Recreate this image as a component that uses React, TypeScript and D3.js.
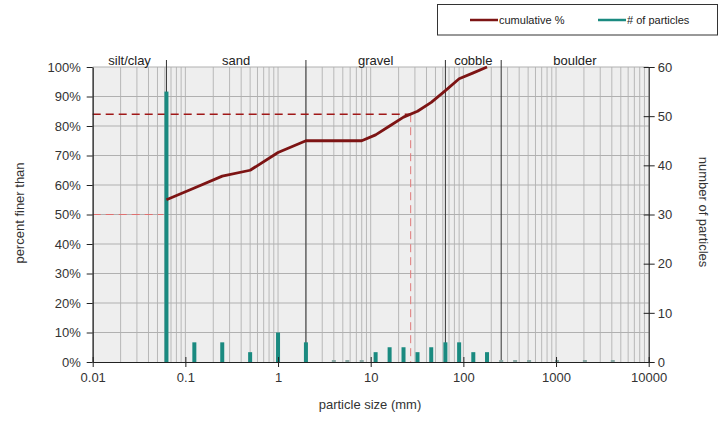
import * as d3 from "d3";
import { useEffect, useRef } from "react";

// sieve sizes (mm) and particle counts
const sizes = [0.0625, 0.125, 0.25, 0.5, 1, 2, 4, 5.6, 8, 11.3, 16, 22.6, 32, 45, 64, 90, 128, 180, 256, 362, 512, 1024, 2048, 4096];
const counts = [55, 4, 4, 2, 6, 4, 0, 0, 0, 2, 3, 3, 2, 3, 4, 4, 2, 2, 0, 0, 0, 0, 0, 0];
// cumulative % finer
const cumSizes = [0.0625, 0.125, 0.25, 0.5, 1, 2, 4, 5.6, 8, 11.3, 16, 22.6, 32, 45, 64, 90, 128, 180];
const cumPct = [55, 59, 63, 65, 71, 75, 75, 75, 75, 77, 80, 83, 85, 88, 92, 96, 98, 100];

const classBreaks = [0.01, 0.0625, 2, 64, 256, 10000];
const classNames = ["silt/clay", "sand", "gravel", "cobble", "boulder"];
const pctTicks = [0, 10, 20, 30, 40, 50, 60, 70, 80, 90, 100];
const countTicks = [0, 10, 20, 30, 40, 50, 60];
const sizeTicks = [0.01, 0.1, 1, 10, 100, 1000, 10000];
const d84 = 27;
const d50Pct = 50;
const d84Pct = 84;

export default function App() {
  const svgRef = useRef<SVGSVGElement>(null);

  useEffect(() => {
    document.body.style.margin = "0";
    const svg = d3.select(svgRef.current);
    svg.selectAll("*").remove();
    const font = "'Liberation Sans', Arial, sans-serif";

    const x = d3.scaleLog().domain([0.01, 10000]).range([92.7, 648.7]);
    const y = d3.scaleLinear().domain([0, 100]).range([362, 67]);
    const y2 = d3.scaleLinear().domain([0, 60]).range([362, 67]);

    // plot background
    svg.append("rect")
      .attr("x", x(0.01)).attr("y", y(100))
      .attr("width", x(10000) - x(0.01)).attr("height", y(0) - y(100))
      .attr("fill", "#eeeeee");

    // vertical log grid
    const minor: number[] = [];
    for (let e = -2; e < 4; e++) {
      for (let m = 1; m <= 9; m++) minor.push(m * Math.pow(10, e));
    }
    svg.append("g").selectAll("line").data(minor).enter().append("line")
      .attr("x1", d => x(d)).attr("x2", d => x(d))
      .attr("y1", y(0)).attr("y2", y(100))
      .attr("stroke", "#b8b8b8").attr("stroke-width", 1);

    // horizontal grid
    svg.append("g").selectAll("line").data(pctTicks.slice(1)).enter().append("line")
      .attr("x1", x(0.01)).attr("x2", x(10000))
      .attr("y1", d => y(d)).attr("y2", d => y(d))
      .attr("stroke", "#b0b0b0").attr("stroke-width", 1);

    // class boundaries
    svg.append("g").selectAll("line").data(classBreaks.slice(1, -1)).enter().append("line")
      .attr("x1", d => x(d)).attr("x2", d => x(d))
      .attr("y1", y(0)).attr("y2", y(100) - 7)
      .attr("stroke", "#333").attr("stroke-width", 1);

    svg.append("g").selectAll("text").data(classNames).enter().append("text")
      .attr("x", (d, i) => (x(classBreaks[i]) + x(classBreaks[i + 1])) / 2)
      .attr("y", 65)
      .attr("text-anchor", "middle")
      .attr("font-family", font).attr("font-size", 13).attr("fill", "#222")
      .text(d => d);

    // D50 / D84 guide lines
    svg.append("line")
      .attr("x1", x(0.01)).attr("x2", x(0.058))
      .attr("y1", y(d50Pct)).attr("y2", y(d50Pct))
      .attr("stroke", "#e07070").attr("stroke-width", 1).attr("stroke-dasharray", "8,5");
    svg.append("line")
      .attr("x1", x(0.01)).attr("x2", x(d84))
      .attr("y1", y(d84Pct)).attr("y2", y(d84Pct))
      .attr("stroke", "#a01818").attr("stroke-width", 1.5).attr("stroke-dasharray", "8,5");
    svg.append("line")
      .attr("x1", x(d84)).attr("x2", x(d84))
      .attr("y1", y(d84Pct)).attr("y2", y(0))
      .attr("stroke", "#e07878").attr("stroke-width", 1).attr("stroke-dasharray", "8,5");

    // particle count bars
    const bw = 4;
    svg.append("g").selectAll("rect").data(sizes).enter().append("rect")
      .attr("x", d => x(d) - bw / 2)
      .attr("width", bw)
      .attr("y", (d, i) => counts[i] > 0 ? y2(counts[i]) : y2(0) - 2)
      .attr("height", (d, i) => counts[i] > 0 ? y2(0) - y2(counts[i]) : 2)
      .attr("fill", (d, i) => counts[i] > 0 ? "#1a8a80" : "#8aa8a4");

    // cumulative line
    const line = d3.line<number>()
      .x(d => x(d))
      .y((d, i) => y(cumPct[i]));
    svg.append("path")
      .attr("d", line(cumSizes))
      .attr("fill", "none")
      .attr("stroke", "#7d1414")
      .attr("stroke-width", 2.8)
      .attr("stroke-linejoin", "round");

    // axes
    const left = svg.append("g").attr("transform", `translate(${x(0.01)},0)`)
      .call(d3.axisLeft(y).tickValues(pctTicks).tickSize(6).tickPadding(6).tickSizeOuter(0).tickFormat(d => `${d}%`));
    const right = svg.append("g").attr("transform", `translate(${x(10000)},0)`)
      .call(d3.axisRight(y2).tickValues(countTicks).tickSize(6).tickPadding(3).tickSizeOuter(0));
    const bottom = svg.append("g").attr("transform", `translate(0,${y(0)})`)
      .call(d3.axisBottom(x).tickValues(sizeTicks).tickSize(5).tickPadding(6).tickSizeOuter(0).tickFormat(d => `${d}`));
    right.selectAll(".tick line").attr("x1", -5);
    bottom.selectAll(".tick line").attr("y1", -5);
    [left, right, bottom].forEach(g => {
      g.select(".domain").attr("stroke", "#222").attr("stroke-width", 1.2);
      g.selectAll(".tick line").attr("stroke", "#222");
      g.selectAll("text").attr("font-family", font).attr("font-size", 13).attr("fill", "#333");
    });

    // axis titles
    svg.append("text")
      .attr("transform", `translate(24,213) rotate(-90)`)
      .attr("text-anchor", "middle")
      .attr("font-family", font).attr("font-size", 13).attr("fill", "#333")
      .text("percent finer than");
    svg.append("text")
      .attr("transform", `translate(699,212) rotate(90)`)
      .attr("text-anchor", "middle")
      .attr("font-family", font).attr("font-size", 13).attr("fill", "#333")
      .text("number of particles");
    svg.append("text")
      .attr("x", 370).attr("y", 409)
      .attr("text-anchor", "middle")
      .attr("font-family", font).attr("font-size", 13).attr("fill", "#333")
      .text("particle size (mm)");

    // legend
    const lg = svg.append("g");
    lg.append("rect")
      .attr("x", 437.5).attr("y", 4.5).attr("width", 280).attr("height", 30.5)
      .attr("fill", "white").attr("stroke", "#333").attr("stroke-width", 1);
    const items = [
      { label: "cumulative %", color: "#7d1414", x0: 470 },
      { label: "# of particles", color: "#1a8a80", x0: 598 },
    ];
    items.forEach(it => {
      lg.append("line").attr("x1", it.x0).attr("x2", it.x0 + 28)
        .attr("y1", 20).attr("y2", 20)
        .attr("stroke", it.color).attr("stroke-width", 2.5);
      lg.append("text").attr("x", it.x0 + 29).attr("y", 24)
        .attr("font-family", font).attr("font-size", 11).attr("fill", "#222")
        .text(it.label);
    });
  }, []);

  return <svg ref={svgRef} width={719} height={422} style={{ display: "block", background: "white" }} />;
}
